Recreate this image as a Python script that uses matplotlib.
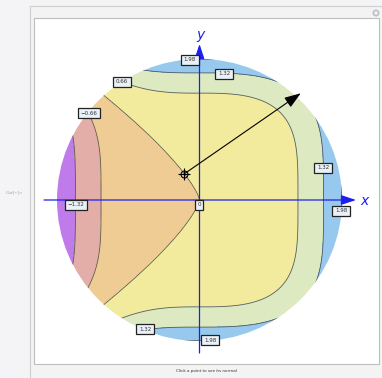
import numpy as np
import matplotlib
matplotlib.use("Agg")
import matplotlib.pyplot as plt
from matplotlib.patches import Circle, Rectangle

# ---- data ----
levels = [-1.32, -0.66, 0.0, 0.66, 1.32, 1.98]
fill_bounds = [-3.0, -1.32, -0.66, 0.0, 0.66, 1.32, 1.98, 3.0]
fill_colors = ["#C07BEA", "#E3AEA8", "#F0CC95", "#F2EA9C", "#DDEAC1", "#97C9EF", "#A9D3F2"]
# field f = coef * (x^px + y^py) on the unit disk
coef, pow_x, pow_y = 2.0, 3, 4
label_texts = ["1.98", "1.32", "0.66", "\u22120.66", "\u22121.32", "0", "1.32", "1.98", "1.32", "1.98"]
label_x = [-0.067, 0.172, -0.544, -0.775, -0.867, -0.004, 0.867, 0.993, -0.382, 0.074]
label_y = [0.993, 0.894, 0.837, 0.617, -0.035, -0.035, 0.227, -0.078, -0.915, -0.993]
click_pt = (-0.109, 0.184)

W, H = 382, 378
fig = plt.figure(figsize=(W / 100, H / 100), dpi=100)

# ---- notebook chrome (pixel coordinates) ----
ax0 = fig.add_axes([0, 0, 1, 1])
ax0.set_xlim(0, W)
ax0.set_ylim(H, 0)
ax0.axis("off")
ax0.add_patch(Rectangle((0, 0), W, H, facecolor="#F4F4F7", edgecolor="none"))
ax0.add_patch(Rectangle((29.5, 5.5), 360, 380, facecolor="#F3F3F3", edgecolor="#CFCFCF", lw=0.8))
ax0.add_patch(Rectangle((33.5, 17.5), 345.8, 346.5, facecolor="white", edgecolor="#BEBEBE", lw=0.8))
ax0.text(15, 192, "Out[\u2022]=", fontsize=3.2, color="#A0A0A8", ha="center", va="center")
ax0.text(206, 371, "Click a point to see its normal", fontsize=3.0, color="#333333",
         ha="center", va="center")
ax0.add_patch(Circle((376, 13), 3.0, facecolor="#D8D8D8", edgecolor="#B0B0B0", lw=0.6))
ax0.add_patch(Circle((376, 13), 1.2, facecolor="#F3F3F3", edgecolor="none"))

# ---- plot axes (data coordinates) ----
cx, cy, sx, sy = 199.5, 200.0, 142.5, 141.0
xl = ((0 - cx) / sx, (W - cx) / sx)
yl = ((cy - H) / sy, (cy - 0) / sy)
ax = fig.add_axes([0, 0, 1, 1])
ax.set_xlim(*xl)
ax.set_ylim(*yl)
ax.axis("off")
ax.patch.set_alpha(0)

g = np.linspace(-1.02, 1.02, 801)
X, Y = np.meshgrid(g, g)
Z = coef * (X ** pow_x + Y ** pow_y)

disk = Circle((0, 0), 1.0, transform=ax.transData, facecolor="none", edgecolor="none")
ax.add_patch(disk)
cf = ax.contourf(X, Y, Z, levels=fill_bounds, colors=fill_colors, zorder=1)
cf.set_clip_path(disk)
cl = ax.contour(X, Y, Z, levels=levels, colors="#444444", linewidths=0.6, alpha=0.85,
                linestyles="solid", zorder=2)
cl.set_clip_path(disk)

blue = "#1E1EF0"
ax.annotate("", xy=(1.098, 0), xytext=(-1.091, 0),
            arrowprops=dict(arrowstyle="-|>,head_length=0.9,head_width=0.3", color=blue,
                            lw=0.9, mutation_scale=10, shrinkA=0, shrinkB=0), zorder=4)
ax.annotate("", xy=(0, 1.106), xytext=(0, -1.085),
            arrowprops=dict(arrowstyle="-|>,head_length=0.9,head_width=0.3", color=blue,
                            lw=0.9, mutation_scale=10, shrinkA=0, shrinkB=0), zorder=4)
ax.text((364 - cx) / sx, (cy - 201) / sy, "x", color=blue, fontsize=10, style="italic",
        ha="center", va="center", zorder=5)
ax.text((200 - cx) / sx, (cy - 35) / sy, "y", color=blue, fontsize=10, style="italic",
        ha="center", va="center", zorder=5)

# contour labels
for t, lx, ly in zip(label_texts, label_x, label_y):
    ax.text(lx, ly, t, fontsize=4.0, color="#333333", ha="center", va="center", zorder=6,
            bbox=dict(boxstyle="square,pad=0.45", facecolor="#E9F0F7", edgecolor="#222222", lw=0.9))

# clicked point and its normal
px, py = click_pt
gx, gy = coef * pow_x * px ** (pow_x - 1), coef * pow_y * py ** (pow_y - 1)
n = np.hypot(gx, gy)
ax.annotate("", xy=(px + gx / n, py + gy / n), xytext=(px, py),
            arrowprops=dict(arrowstyle="-|>,head_length=1.0,head_width=0.35", color="black",
                            lw=0.8, mutation_scale=10, shrinkA=0, shrinkB=0), zorder=7)
ax.plot([px], [py], marker="o", ms=5, mfc="none", mec="black", mew=0.8, zorder=8)
ax.plot([px], [py], marker="+", ms=8, mec="black", mew=0.8, zorder=8)

fig.savefig("out.png", dpi=100)
